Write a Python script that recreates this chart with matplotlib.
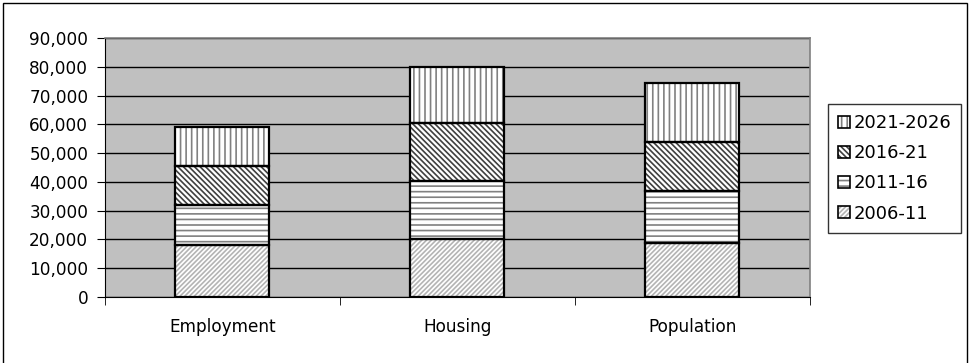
import numpy as np
import matplotlib.pyplot as plt
from matplotlib.patches import Rectangle, Patch
from matplotlib.legend_handler import HandlerTuple
from matplotlib.ticker import FuncFormatter

plt.rcParams['font.family'] = ['DejaVu Sans']
plt.rcParams['hatch.linewidth'] = 1.2

# data
categories = ['Employment', 'Housing', 'Population']
periods = ['2006-11', '2011-16', '2016-21', '2021-2026']
v_2006_11 = [18000, 20100, 18800]
v_2011_16 = [13900, 20300, 18000]
v_2016_21 = [13600, 20000, 17000]
v_2021_26 = [13500, 19500, 20500]
series = [v_2006_11, v_2011_16, v_2016_21, v_2021_26]

hatches = ['/' * 7, '---', '\\' * 6, '|||']
hatch_cols = ['#b4b4b4', '#808080', '#404040', '#808080']
fs = 12.2

fig = plt.figure(figsize=(9.7, 3.63), dpi=100)
ax = fig.add_axes([105/970, 1-297/363, 705/970, 259/363])
ax.set_facecolor('#c0c0c0')

x = np.arange(len(categories))
bottom = np.zeros(len(categories))
for vals, h, hc in zip(series, hatches, hatch_cols):
    ax.bar(x, vals, 0.4, bottom=bottom, color='white', edgecolor=hc,
           hatch=h, linewidth=0, zorder=3)
    ax.bar(x, vals, 0.4, bottom=bottom, fill=False, edgecolor='black',
           linewidth=1.6, zorder=4)
    bottom += np.array(vals)

ax.set_xlim(-0.5, 2.5)
ax.set_ylim(0, 90000)
ax.set_yticks(np.arange(0, 90001, 10000))
ax.yaxis.set_major_formatter(FuncFormatter(lambda v, p: f'{int(v):,}'))
ax.yaxis.grid(True, color='black', linewidth=1)
ax.set_axisbelow(True)
ax.set_xticks(x)
ax.set_xticklabels(categories)
ax.set_xticks([-0.5, 0.5, 1.5, 2.5], minor=True)
ax.tick_params(axis='x', which='major', length=0, pad=15, labelsize=fs)
ax.tick_params(axis='x', which='minor', length=6, color='black')
ax.tick_params(axis='y', length=6, labelsize=fs, pad=6)
for s in ['top', 'right']:
    ax.spines[s].set_color('#808080')
    ax.spines[s].set_linewidth(1.2)
for s in ['left', 'bottom']:
    ax.spines[s].set_color('black')

handles = [(Patch(facecolor='white', edgecolor=hc, hatch=h, linewidth=0),
            Patch(fill=False, edgecolor='black', linewidth=1.2))
           for h, hc in zip(hatches, hatch_cols)]
leg = fig.legend(handles[::-1], periods[::-1], loc='upper left',
                 bbox_to_anchor=(828/970, 1-104/363), fontsize=13,
                 handler_map={tuple: HandlerTuple(ndivide=1)},
                 frameon=True, fancybox=False, handlelength=0.65,
                 handleheight=0.65, handletextpad=0.2, labelspacing=0.68,
                 borderpad=0.55, borderaxespad=0)
leg.get_frame().set_edgecolor('black')
leg.get_frame().set_linewidth(1)

# chart border
fig.patches.append(Rectangle((3/970, -0.1), 964/970, 1.1 - 3/363,
                             transform=fig.transFigure, fill=False,
                             edgecolor='black', linewidth=1))

fig.savefig('out.png', dpi=100)
